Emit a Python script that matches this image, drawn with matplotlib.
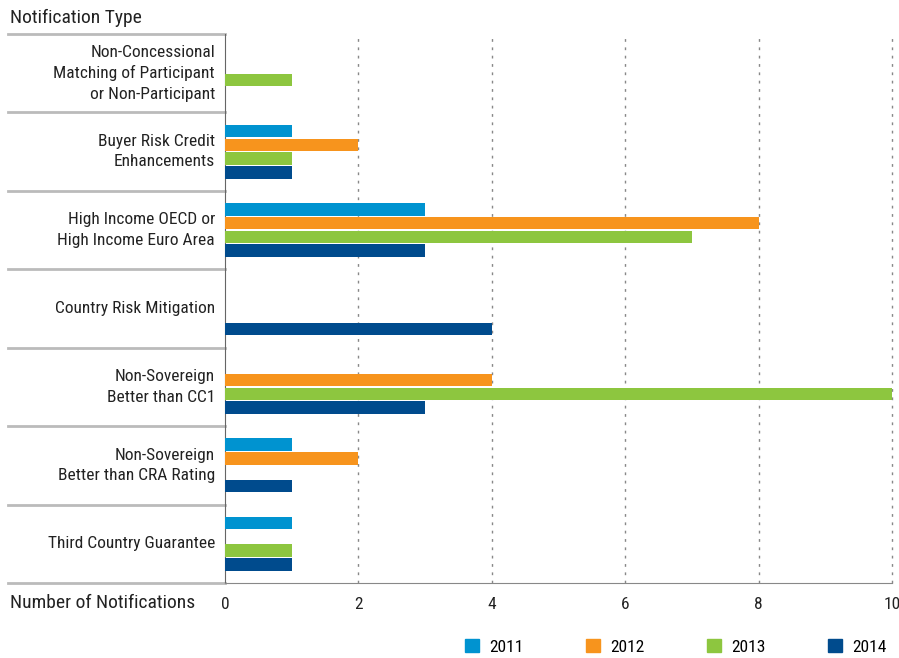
import numpy as np
import matplotlib.pyplot as plt
import matplotlib.transforms as mtransforms
from matplotlib.patches import Patch

plt.rcParams['font.family'] = ['Roboto Condensed', 'Liberation Sans Narrow', 'Roboto', 'DejaVu Sans']

categories = ["Non-Concessional\nMatching of Participant\nor Non-Participant",
              "Buyer Risk Credit\nEnhancements",
              "High Income OECD or\nHigh Income Euro Area",
              "Country Risk Mitigation",
              "Non-Sovereign\nBetter than CC1",
              "Non-Sovereign\nBetter than CRA Rating",
              "Third Country Guarantee"]
years = ["2011", "2012", "2013", "2014"]
v2011 = [0, 1, 3, 0, 0, 1, 1]
v2012 = [0, 2, 8, 0, 4, 2, 0]
v2013 = [1, 1, 7, 0, 10, 0, 1]
v2014 = [0, 1, 3, 4, 3, 1, 1]
colors = ["#0093d0", "#f7941d", "#8dc63f", "#004b8d"]

fig = plt.figure(figsize=(8.99, 6.58), dpi=100)
ax = fig.add_axes([0.2503, 0.114, 0.742, 0.8343])

y = np.arange(len(categories))
step = 0.175
for j, vals in enumerate([v2011, v2012, v2013, v2014]):
    ax.barh(y + (j - 1.5) * step, vals, height=0.16, color=colors[j], zorder=3)

ax.set_xlim(0, 10)
ax.set_ylim(len(categories) - 0.5, -0.5)
ax.set_xticks(range(0, 11, 2))
ax.set_yticks([])
ax.tick_params(axis='x', length=0, labelsize=12.5, pad=10, colors='#222222')
for x in range(2, 11, 2):
    ax.axvline(x, color='#888888', linestyle=(0, (2, 4)), linewidth=1,
               zorder=1, clip_on=False)

for s in ['top', 'right']:
    ax.spines[s].set_visible(False)
ax.spines['left'].set_color('#666666')
ax.spines['bottom'].set_color('#888888')
ax.spines['bottom'].set_linewidth(0.8)

trans = mtransforms.blended_transform_factory(ax.transAxes, ax.transData)
for b in np.arange(-0.5, len(categories), 1.0):
    ax.plot([-0.325, 0], [b, b], transform=trans, color='#bbbbbb',
            linewidth=2, clip_on=False)
for i, c in enumerate(categories):
    ax.text(-0.015, i, c, transform=trans, ha='right', va='center',
            fontsize=12.5, color='#222222', linespacing=1.45)

fig.text(10 / 899, 1 - 18 / 658, "Notification Type", fontsize=14,
         va='center', ha='left', color='#222222')
fig.text(10 / 899, 1 - 603 / 658, "Number of Notifications", fontsize=14,
         va='center', ha='left', color='#222222')

handles = [Patch(color=c, label=l) for c, l in zip(colors, years)]
fig.legend(handles=handles, loc='center', bbox_to_anchor=(0.752, 1 - 647 / 658),
           ncol=4, frameon=False, fontsize=12.5, handlelength=0.8, handleheight=0.8,
           columnspacing=3.6, handletextpad=0.6)

fig.savefig("out.png", dpi=100)
